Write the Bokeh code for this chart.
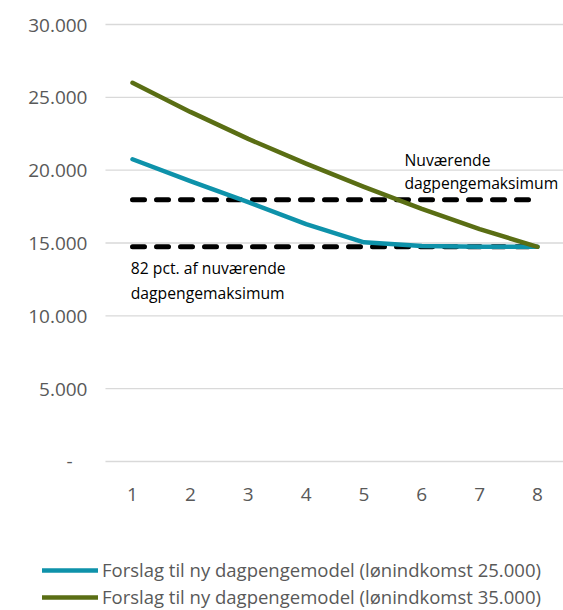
from bokeh.plotting import figure
from bokeh.models import ColumnDataSource, Legend, LegendItem, FixedTicker
from bokeh.core.properties import value
from bokeh.embed import file_html
from bokeh.resources import INLINE

# ---- data ----
months = [1, 2, 3, 4, 5, 6, 7, 8]
forslag_25000 = [20750, 19250, 17800, 16300, 15050, 14800, 14750, 14740]
forslag_35000 = [26000, 24000, 22150, 20450, 18850, 17350, 15950, 14740]
maksimum = [17975] * 8
maksimum_82 = [14740] * 8

y_ticks = [0, 5000, 10000, 15000, 20000, 25000, 30000]
y_tick_labels = ["-\u00a0\u00a0\u00a0", "5.000", "10.000", "15.000", "20.000", "25.000", "30.000"]

legend_labels = ["Forslag til ny dagpengemodel (lønindkomst 25.000)",
                 "Forslag til ny dagpengemodel (lønindkomst 35.000)"]

ann_text = ["Nuværende", "dagpengemaksimum", "82 pct. af nuværende", "dagpengemaksimum"]
ann_x = [5.70, 5.70, 0.97, 0.97]
ann_y = [20730, 19150, 13250, 11600]

FONT = "Open Sans"
GRAY = "#595959"
TEAL = "#0E92AA"
OLIVE = "#5A6E14"

# plot-area geometry (data units)
X_LEFT, X_RIGHT = -1.2815, 8.449      # whole canvas width
GRID_X0 = 0.533                       # left edge of the plotting area
Y_BOTTOM, Y_TOP = -10229, 31648       # whole canvas height

p = figure(width=563, height=610, output_backend="svg", toolbar_location=None,
           x_range=(X_LEFT, X_RIGHT), y_range=(Y_BOTTOM, Y_TOP),
           min_border=0)
p.outline_line_color = None
p.background_fill_color = "white"
p.border_fill_color = "white"

# axes placed inside the canvas
p.xaxis.fixed_location = 0
p.xaxis.ticker = FixedTicker(ticks=months)
p.xaxis.axis_line_color = None
p.xaxis.major_tick_line_color = None
p.xaxis.minor_tick_line_color = None
p.xaxis.major_label_text_font = FONT
p.xaxis.major_label_text_font_size = "19px"
p.xaxis.major_label_text_color = GRAY
p.xaxis.major_label_standoff = 21

p.yaxis.fixed_location = GRID_X0
p.yaxis.ticker = FixedTicker(ticks=y_ticks)
p.yaxis.major_label_overrides = {t: l for t, l in zip(y_ticks, y_tick_labels)}
p.yaxis.axis_line_color = None
p.yaxis.major_tick_line_color = None
p.yaxis.minor_tick_line_color = None
p.yaxis.major_label_text_font = FONT
p.yaxis.major_label_text_font_size = "19px"
p.yaxis.major_label_text_color = GRAY
p.yaxis.major_label_standoff = 12

p.xgrid.grid_line_color = None
p.ygrid.grid_line_color = None

src = ColumnDataSource(dict(x=months, a=forslag_25000, b=forslag_35000,
                            m=maksimum, m82=maksimum_82))

# horizontal gridlines over the plotting area only
p.segment(x0=[GRID_X0] * len(y_ticks), x1=[X_RIGHT] * len(y_ticks),
          y0=y_ticks, y1=y_ticks, line_color="#D9D9D9", line_width=1.3)

p.line("x", "m", source=src, line_color="black", line_width=5,
       line_dash="12 12", line_cap="round")
p.line("x", "m82", source=src, line_color="black", line_width=5,
       line_dash="12 12", line_cap="round")
r_a = p.line("x", "a", source=src, line_color=TEAL, line_width=4.5,
             line_cap="round", line_join="round")
r_b = p.line("x", "b", source=src, line_color=OLIVE, line_width=4.5,
             line_cap="round", line_join="round")

p.text(x=ann_x, y=ann_y, text=ann_text, text_font=value(FONT),
       text_font_size="15.7px", text_color="black",
       text_align="left", text_baseline="middle")

legend = Legend(items=[LegendItem(label=legend_labels[0], renderers=[r_a]),
                       LegendItem(label=legend_labels[1], renderers=[r_b])],
                location=(42, 1), orientation="vertical",
                glyph_width=56, glyph_height=20, label_height=20,
                label_standoff=4, spacing=2, padding=0, margin=0,
                label_text_font=FONT, label_text_font_size="18.5px",
                label_text_color=GRAY, border_line_color=None,
                background_fill_alpha=0)
p.add_layout(legend, "center")

open("out.html", "w").write(file_html(p, INLINE))
